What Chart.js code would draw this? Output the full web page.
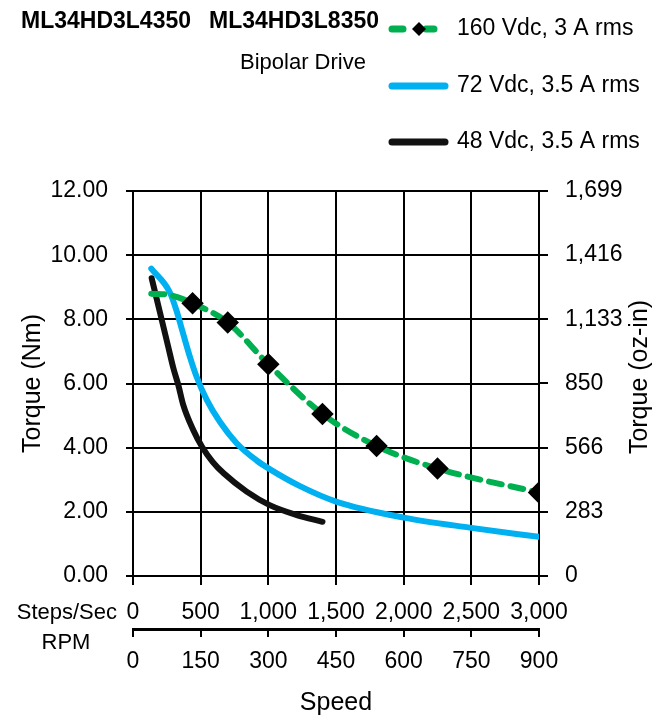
<!DOCTYPE html>
<html>
<head>
<meta charset="utf-8">
<script src="https://cdn.jsdelivr.net/npm/chart.js@4.4.0/dist/chart.umd.min.js"></script>
<style>
  html, body { margin: 0; padding: 0; background: #fff; }
  #wrap { width: 660px; height: 718px; }
</style>
</head>
<body>
<div id="wrap"><canvas id="chart" width="660" height="718"></canvas></div>
<script>
// speed in steps/sec, torque in Nm
const steps160 = [135, 280, 440, 700, 1000, 1400, 1800, 2250, 3000]
const torque160 = [8.8, 8.75, 8.5, 7.9, 6.6, 5.05, 4.05, 3.35, 2.6]
const markers160 = [false, false, true, true, true, true, true, true, true]
const steps72 = [135, 270, 320, 370, 420, 470, 545, 643, 766, 914, 1010, 1234, 1500, 2000, 2500, 3000]
const torque72 = [9.58, 8.86, 8.29, 7.56, 6.84, 6.21, 5.49, 4.8, 4.14, 3.6, 3.33, 2.8, 2.32, 1.82, 1.5, 1.22]
const steps48 = [138, 200, 260, 300, 335, 370, 445, 510, 590, 670, 840, 1010, 1210, 1400]
const torque48 = [9.28, 8.2, 7.15, 6.45, 5.95, 5.35, 4.55, 4.03, 3.55, 3.2, 2.63, 2.21, 1.9, 1.69]

const ozTicks = [0, 283, 566, 850, 1133, 1416, 1699]
const seriesNames = ["160 Vdc, 3 A rms", "72 Vdc, 3.5 A rms", "48 Vdc, 3.5 A rms"]

const FONT = "'Liberation Sans Narrow', 'Liberation Sans', Arial, sans-serif"
const green = "#00b050"
const blue = "#00b0f0"
const black = "#111111"

const pts = (xs, ys) => xs.map((x, i) => ({ x: x, y: ys[i] }))

const textPlugin = {
  id: "texts",
  afterDraw(chart) {
    const ctx = chart.ctx
    ctx.save()
    ctx.fillStyle = "#000"
    ctx.textBaseline = "middle"
    ctx.textAlign = "left"
    ctx.font = "bold 23px " + FONT
    ctx.fillText("ML34HD3L4350", 21, 22)
    ctx.fillText("ML34HD3L8350", 209, 22)
    ctx.font = "22px " + FONT
    ctx.fillText("Bipolar Drive", 240, 63)

    // legend
    const rows = [29, 86, 142]
    chart.data.datasets.forEach((ds, i) => {
      const y = rows[i]
      ctx.save()
      ctx.strokeStyle = ds.borderColor
      ctx.lineWidth = 7
      ctx.lineCap = "round"
      ctx.beginPath()
      if (i === 0) {
        ctx.moveTo(392, y)
        ctx.lineTo(403, y)
        ctx.moveTo(426, y)
        ctx.lineTo(434, y)
      } else {
        ctx.moveTo(392, y)
        ctx.lineTo(445, y)
      }
      ctx.stroke()
      if (i === 0) {
        ctx.fillStyle = "#000"
        ctx.beginPath()
        ctx.moveTo(419, y - 7)
        ctx.lineTo(426, y)
        ctx.lineTo(419, y + 7)
        ctx.lineTo(412, y)
        ctx.closePath()
        ctx.fill()
      }
      ctx.restore()
      ctx.font = "23px " + FONT
      ctx.fillText(seriesNames[i], 457, y)
    })

    ctx.font = "22px " + FONT
    ctx.textAlign = "right"
    ctx.fillText("Steps/Sec", 117, 613)
    ctx.textAlign = "center"
    ctx.fillText("RPM", 66, 643)

    // right axis title reads bottom to top
    ctx.translate(640, 377)
    ctx.rotate(-Math.PI / 2)
    ctx.font = "25px " + FONT
    ctx.fillText("Torque (oz-in)", 0, 0)
    ctx.restore()
  }
}

new Chart(document.getElementById("chart"), {
  type: "line",
  data: {
    datasets: [
      {
        label: seriesNames[0],
        data: pts(steps160, torque160),
        borderColor: green,
        borderWidth: 6,
        borderDash: [13, 9],
        borderCapStyle: "round",
        pointStyle: "rectRot",
        pointRadius: markers160.map((m) => (m ? 7 : 0)),
        pointBackgroundColor: "#000",
        pointBorderColor: "#000",
        cubicInterpolationMode: "monotone"
      },
      {
        label: seriesNames[1],
        data: pts(steps72, torque72),
        borderColor: blue,
        borderWidth: 6,
        borderCapStyle: "round",
        pointRadius: 0,
        cubicInterpolationMode: "monotone"
      },
      {
        label: seriesNames[2],
        data: pts(steps48, torque48),
        borderColor: black,
        borderWidth: 6,
        borderCapStyle: "round",
        pointRadius: 0,
        cubicInterpolationMode: "monotone"
      }
    ]
  },
  options: {
    responsive: false,
    animation: false,
    layout: { padding: { top: 191, left: 0, right: 0, bottom: 0 } },
    plugins: {
      legend: { display: false },
      tooltip: { enabled: false }
    },
    scales: {
      x: {
        type: "linear",
        position: "bottom",
        min: 0,
        max: 3000,
        ticks: {
          stepSize: 500,
          color: "#000",
          font: { family: FONT, size: 23 },
          padding: 14,
          maxRotation: 0,
          callback: (v) => v.toLocaleString("en-US")
        },
        grid: { color: "#000", lineWidth: 2, tickLength: 9 },
        border: { display: false },
        afterFit: (s) => { s.height = 53 }
      },
      x2: {
        type: "linear",
        position: "bottom",
        min: 0,
        max: 900,
        ticks: {
          stepSize: 150,
          color: "#000",
          font: { family: FONT, size: 23 },
          padding: 11,
          maxRotation: 0
        },
        grid: { drawOnChartArea: false, color: "#000", lineWidth: 2, tickLength: 8 },
        border: { display: true, color: "#000", width: 3 },
        title: {
          display: true,
          text: "Speed",
          color: "#000",
          font: { family: FONT, size: 25 },
          padding: { top: 0, bottom: 0 }
        },
        afterFit: (s) => { s.height = 89 }
      },
      y: {
        position: "left",
        min: 0,
        max: 12,
        ticks: {
          stepSize: 2,
          color: "#000",
          font: { family: FONT, size: 23 },
          padding: 18,
          callback: (v) => v.toFixed(2)
        },
        grid: { color: "#000", lineWidth: 2, tickLength: 7 },
        border: { display: false },
        title: {
          display: true,
          text: "Torque (Nm)",
          color: "#000",
          font: { family: FONT, size: 25 },
          padding: { top: 18, bottom: 0 }
        },
        afterFit: (s) => { s.width = 133 }
      },
      y2: {
        position: "right",
        min: 0,
        max: 1699,
        afterBuildTicks: (axis) => { axis.ticks = ozTicks.map((v) => ({ value: v })) },
        ticks: {
          color: "#000",
          font: { family: FONT, size: 23 },
          padding: 17,
          callback: (v) => v.toLocaleString("en-US")
        },
        grid: { drawOnChartArea: false, color: "#000", lineWidth: 2, tickLength: 9 },
        border: { display: false },
        afterFit: (s) => { s.width = 121 }
      }
    }
  },
  plugins: [textPlugin]
})
</script>
</body>
</html>
